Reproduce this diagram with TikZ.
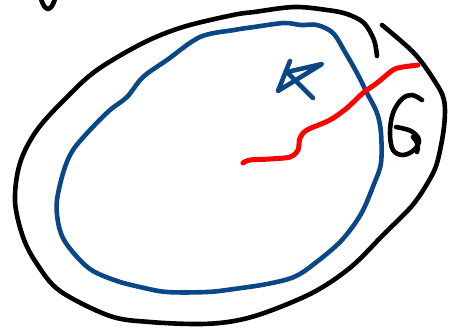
\documentclass[tikz,border=0pt]{standalone}
\usepackage{xcolor}
\usepackage{tikz}
\definecolor{sInk}{HTML}{000000}
\definecolor{sBlue}{HTML}{0A4786}
\definecolor{sRed}{HTML}{FF0000}
\tikzset{
  pen/.style={line width=2.3pt, line cap=round, line join=round},
  outerpen/.style={pen, draw=sInk},
  innerpen/.style={pen, draw=sBlue},
  redpen/.style={pen, draw=sRed, line width=2.5pt},
}
\begin{document}
\begin{tikzpicture}[x=0.5pt, y=-0.5pt]
  \useasboundingbox (0,0) rectangle (468,329);
  % small mark at the top left
  \draw[outerpen] plot[smooth, tension=0.6] coordinates {(41,-1) (44,6) (48,9) (52,6) (55,-1)};
  % outer black curve (open at the top right)
  \draw[outerpen] plot[smooth, tension=0.55] coordinates {
    (377,56) (374,40) (364,23) (347,14) (327,10) (294,7) (254,12) (233,15)
    (183,27) (143,43) (97,70) (67,97) (37,130) (20,163) (15,201) (23,237)
    (37,264) (60,291) (110,316) (150,322) (200,324) (234,321) (267,312)
    (314,292) (351,267) (384,234) (411,207) (427,184) (437,163) (444,127)
    (444,100) (434,80) (414,53) (382,25)};
  % inner blue curve
  \draw[innerpen] plot[smooth cycle, tension=0.55] coordinates {
    (234,30) (200,37) (167,60) (143,77) (127,97) (110,110) (90,130) (73,150)
    (64,170) (57,200) (58,222) (64,240) (78,258) (93,271) (117,281) (140,287)
    (167,292) (207,292) (234,289) (267,284) (294,277) (314,264) (341,241)
    (361,214) (374,184) (381,163) (381,133) (377,113) (367,93) (357,73)
    (345,52) (333,33) (317,25) (301,25) (284,23) (254,27)};
  % blue sketched mark
  \draw[innerpen] (313,98) -- (287,72) -- (322,64) -- (278,91) -- (290,61);
  % red line
  \draw[redpen] plot[smooth, tension=0.5] coordinates {
    (243,163) (250,160) (270,159) (290,157) (298,150) (300,138) (307,130)
    (330,120) (347,108) (363,93) (377,83) (393,70) (403,67) (418,65)};
  % black hand-drawn 6
  \draw[outerpen] plot[smooth, tension=0.6] coordinates {
    (422,100) (412,95) (402,99) (393,113) (390,133) (393,150) (403,155)
    (414,150) (419,140) (411,131) (396,127)};
  \draw[outerpen] (413,137) .. controls (418,142) and (419,147) .. (417,152);
\end{tikzpicture}
\end{document}
